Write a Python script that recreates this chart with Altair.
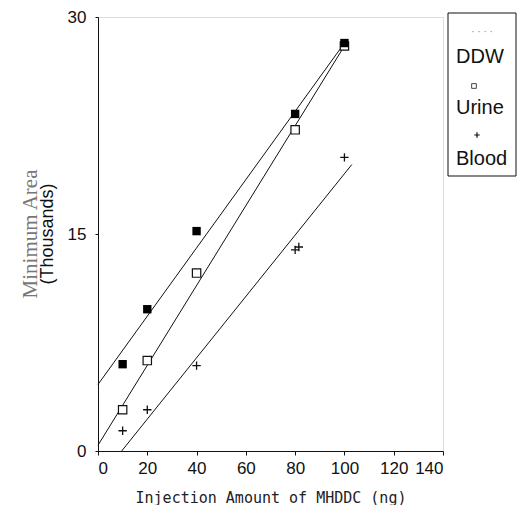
import altair as alt
import pandas as pd

# ---- data ----
x_ng = [10, 20, 40, 80, 100]
ddw = [6.0, 9.8, 15.2, 23.3, 28.2]
urine = [2.85, 6.25, 12.3, 22.2, 28.0]
blood_x = [10, 20, 40, 80, 81.5, 100]
blood = [1.4, 2.85, 5.9, 13.9, 14.1, 20.3]

ddw_fit_x = [0, 100]
ddw_fit_y = [4.6, 28.2]
urine_fit_x = [0, 100]
urine_fit_y = [0.4, 28.0]
blood_fit_x = [9.6, 103]
blood_fit_y = [0.0, 19.8]

x_ticks = [0, 20, 40, 60, 80, 100, 120, 140]
y_ticks = [0, 15, 30]

series_names = ["DDW", "Urine", "Blood"]

# ---- tables ----
pts_ddw = pd.DataFrame({"x": x_ng, "y": ddw})
pts_urine = pd.DataFrame({"x": x_ng, "y": urine})
pts_blood = pd.DataFrame({"x": blood_x, "y": blood})
fits = pd.concat([
    pd.DataFrame({"x": ddw_fit_x, "y": ddw_fit_y, "s": "DDW"}),
    pd.DataFrame({"x": urine_fit_x, "y": urine_fit_y, "s": "Urine"}),
    pd.DataFrame({"x": blood_fit_x, "y": blood_fit_y, "s": "Blood"}),
])

FONT = "Liberation Sans"

xs = alt.Scale(domain=[0, 140], nice=False)
ys = alt.Scale(domain=[0, 30], nice=False)

x_enc = alt.X("x:Q", scale=xs, axis=alt.Axis(
    values=x_ticks, title="Injection Amount of MHDDC (ng)", grid=False,
    tickSize=4, labelPadding=5, labelFontSize=17, labelFont=FONT, labelColor="#111",
    titleFont="DejaVu Sans Mono", titleFontSize=15, titleFontWeight="normal",
    titleColor="#222", titlePadding=14, domainColor="#111", tickColor="#111"))
y_enc = alt.Y("y:Q", scale=ys, axis=alt.Axis(
    values=y_ticks, title=None, grid=False, tickSize=3, labelPadding=9,
    labelFontSize=17, labelFont=FONT, labelColor="#111",
    domainColor="#111", tickColor="#111"))

lines = alt.Chart(fits).mark_line(color="#111", strokeWidth=1).encode(
    x=x_enc, y=y_enc, detail="s:N")

plus_path = "M-1,0L1,0M0,-1L0,1"

p_urine = alt.Chart(pts_urine).mark_point(
    shape="square", size=70, filled=False, fill="white", fillOpacity=1,
    stroke="#111", strokeWidth=1.2, opacity=1).encode(x="x:Q", y="y:Q")
p_blood = alt.Chart(pts_blood).mark_point(
    shape=plus_path, size=70, filled=False, stroke="#111", strokeWidth=1.3,
    opacity=1).encode(x="x:Q", y="y:Q")
p_ddw = alt.Chart(pts_ddw).mark_point(
    shape="square", size=70, filled=True, color="#000", opacity=1).encode(
    x="x:Q", y="y:Q")

one = pd.DataFrame({"k": [0]})

leg_box = alt.Chart(one).mark_rect(fill="white", stroke="#111", strokeWidth=1).encode(
    x=alt.value(350), x2=alt.value(418), y=alt.value(-4), y2=alt.value(159))

def leg_text(label, ypos):
    return alt.Chart(one).mark_text(
        text=label, font=FONT, fontSize=20, align="left", baseline="middle",
        color="#111").encode(x=alt.value(358), y=alt.value(ypos))

leg_ddw_sym = alt.Chart(one).mark_text(
    text="·  ·  ·  ·", font=FONT, fontSize=10, color="#888", align="center",
    baseline="middle").encode(x=alt.value(384), y=alt.value(15))
leg_urine_sym = alt.Chart(one).mark_point(
    shape="square", size=22, filled=False, stroke="#444", strokeWidth=1,
    opacity=1).encode(x=alt.value(376), y=alt.value(69))
leg_blood_sym = alt.Chart(one).mark_point(
    shape=plus_path, size=30, filled=False, stroke="#111", strokeWidth=1.2,
    opacity=1).encode(x=alt.value(379), y=alt.value(118))

ytitle1 = alt.Chart(one).mark_text(
    text="Minimum Area", font="Liberation Serif", fontSize=21, angle=270,
    align="center", baseline="middle", color="#777").encode(
    x=alt.value(-67), y=alt.value(217))
ytitle2 = alt.Chart(one).mark_text(
    text="(Thousands)", font=FONT, fontSize=18, angle=270,
    align="center", baseline="middle", color="#111").encode(
    x=alt.value(-50), y=alt.value(217))

chart = alt.layer(
    lines, p_urine, p_blood, p_ddw,
    leg_box, leg_text(series_names[0], 40), leg_text(series_names[1], 91),
    leg_text(series_names[2], 142),
    leg_ddw_sym, leg_urine_sym, leg_blood_sym, ytitle1, ytitle2,
).properties(
    width=345, height=434,
    padding={"left": 90, "top": 9, "right": 74, "bottom": 54},
    autosize=alt.AutoSizeParams(type="none"),
).configure_view(stroke="#111", strokeWidth=1).configure(background="white")

chart.save("out.html", embed_options={"renderer": "svg", "actions": False})
